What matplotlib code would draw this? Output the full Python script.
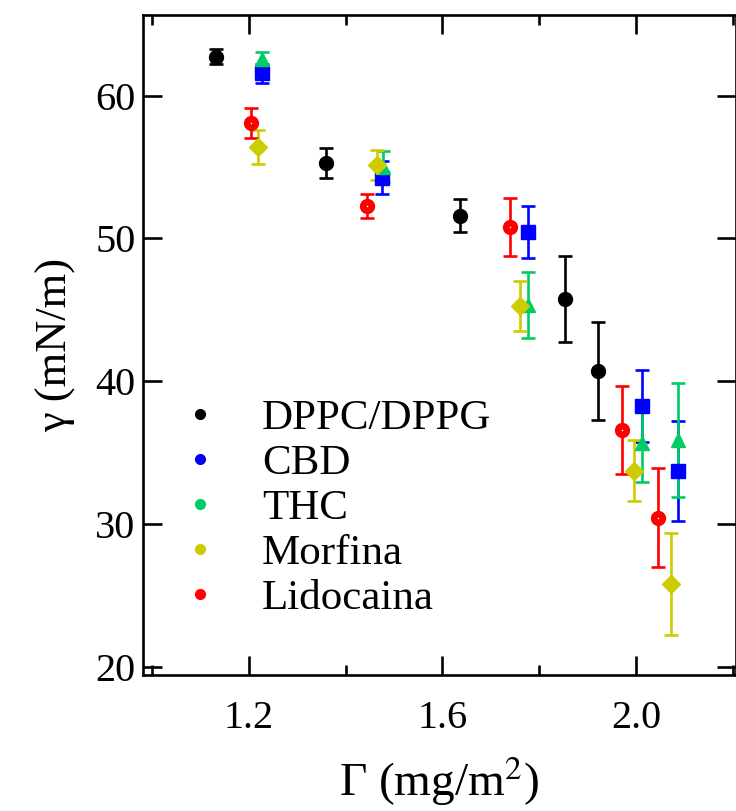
import matplotlib
matplotlib.use("Agg")
import matplotlib.pyplot as plt
from matplotlib.lines import Line2D
from matplotlib.ticker import MultipleLocator

plt.rcParams['font.family'] = ['Liberation Serif', 'DejaVu Serif']
plt.rcParams['mathtext.fontset'] = 'stix'

# data
labels = ["DPPC/DPPG", "CBD", "THC", "Morfina", "Lidocaina"]
colors = ["#000000", "#0000ff", "#00cc66", "#cccc00", "#ff0000"]
markers = ["o", "s", "^", "D", "o"]

dppc_x = [1.132, 1.359, 1.636, 1.853, 1.922]
dppc_y = [62.73, 55.31, 51.60, 45.74, 40.74]
dppc_e = [0.52, 1.05, 1.16, 3.00, 3.44]

cbd_x = [1.228, 1.476, 1.776, 2.011, 2.087]
cbd_y = [61.57, 54.26, 50.43, 38.27, 33.74]
cbd_e = [0.65, 1.14, 1.83, 2.50, 3.50]

thc_x = [1.228, 1.478, 1.777, 2.011, 2.087]
thc_y = [62.55, 55.03, 45.34, 35.66, 35.89]
thc_e = [0.50, 1.08, 2.28, 2.70, 4.00]

morf_x = [1.219, 1.464, 1.761, 1.996, 2.072]
morf_y = [56.39, 55.15, 45.27, 33.74, 25.80]
morf_e = [1.19, 1.03, 1.75, 2.16, 3.56]

lido_x = [1.204, 1.445, 1.739, 1.971, 2.045]
lido_y = [58.07, 52.28, 50.78, 36.59, 30.45]
lido_e = [1.05, 0.83, 2.04, 3.09, 3.50]

series = [(dppc_x, dppc_y, dppc_e), (cbd_x, cbd_y, cbd_e), (thc_x, thc_y, thc_e),
          (morf_x, morf_y, morf_e), (lido_x, lido_y, lido_e)]

fig = plt.figure(figsize=(7.36, 8.11), dpi=100)
ax = fig.add_axes([142.5 / 736, 136 / 811, 1 - 142.5 / 736, 660 / 811])

for (xs, ys, es), c, m in zip(series, colors, markers):
    ms = 9 if m == "D" else 10
    ax.errorbar(xs, ys, yerr=es, fmt=m, color=c, ms=ms, elinewidth=1.9,
                capsize=5, capthick=1.9, mec=c, mfc=c)

# tiny white dot in the middle of the Lidocaina circles
ax.plot(lido_x, lido_y, "o", color="white", ms=1.1, mew=0, zorder=5)

ax.set_xlim(0.981, 2.206)
ax.set_ylim(19.42, 65.65)
ax.xaxis.set_minor_locator(MultipleLocator(0.2))
ax.set_xticks([1.2, 1.6, 2.0])
ax.set_xticklabels(["1.2", "1.6", "2.0"])
ax.set_yticks([20, 30, 40, 50, 60])

ax.tick_params(which="both", direction="in", top=True, right=True, width=1.9)
ax.tick_params(which="major", length=13.5)
ax.tick_params(which="minor", length=7)
ax.tick_params(axis="x", which="major", labelsize=29, pad=18)
ax.tick_params(axis="y", which="major", labelsize=29, pad=5)
for s in ax.spines.values():
    s.set_linewidth(1.9)

ax.set_xlabel("Γ (mg/m$^2$)", fontsize=34, labelpad=12)
ax.set_ylabel("γ (mN/m)", fontsize=32, labelpad=14)

handles = [Line2D([], [], ls="", marker="o", color=c, ms=7) for c in colors]
ax.legend(handles, labels, frameon=False, fontsize=31, loc="center left",
          bbox_to_anchor=(0.075, 0.2525), handlelength=0.6, handletextpad=1.14,
          labelspacing=0.14, borderpad=0, borderaxespad=0)

fig.savefig("out.png", dpi=100)
